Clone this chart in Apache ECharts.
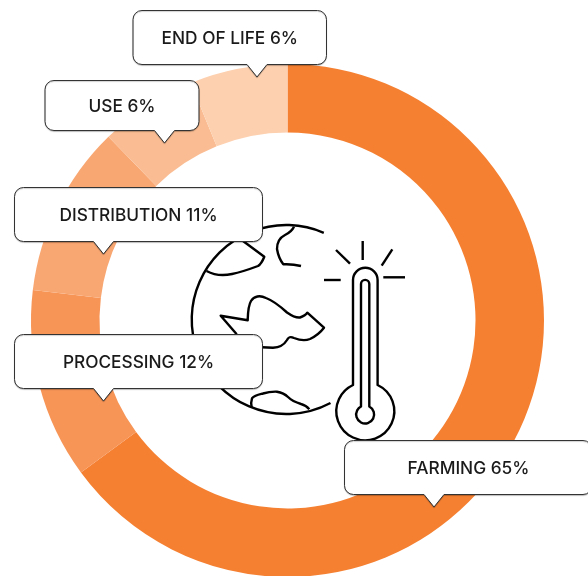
<!DOCTYPE html>
<html>
<head>
<meta charset="utf-8">
<style>
  html, body { margin: 0; padding: 0; background: #fff; }
  #chart { width: 588px; height: 576px; }
</style>
<script src="https://cdn.jsdelivr.net/npm/echarts@6/dist/echarts.min.js"></script>
</head>
<body>
<div id="chart"></div>
<script>
const categories = ['FARMING', 'PROCESSING', 'DISTRIBUTION', 'USE', 'END OF LIFE']
// printed percentages
const shares = [65, 12, 11, 6, 6]
// unrounded shares as measured off the ring
const sliceValues = [64.9, 12, 10.8, 6.15, 6.15]
const sliceColors = ['#f58032', '#f79557', '#f9a772', '#fabd93', '#fdd0af']

// [left, top, right, bottom, pointer x], same order as categories
const calloutBoxes = [
  [344.5, 440.5, 592, 494.5, 434],
  [14.5, 334.5, 262.5, 388.5, 103.5],
  [14.5, 187.5, 262.5, 241.5, 103.5],
  [45, 80.5, 199, 130.5, 164.5],
  [133, 10.5, 326.5, 64.5, 257],
]

const iconPaths = [
  // globe outline
  'M323.8 232.8 A94.5 94.5 0 1 0 330.5 403',
  // continents
  'M206.5 271 C214 275 223 276 232 274 C242 272 250 269 258 266 C261 264 263 260 264.3 256.7 L243 241',
  'M294 226.7 C292 231 289 233 285 235 C279 238 277 243 277 249 C278 255 280 260 283.3 264.3 C289 264 295 264.5 301 266',
  'M236.7 334.3 L220.7 315.7 L247.7 320.3 C248 312 248 306 251 301 C254 296 260 295 266 298 C274 301 281 307 287 312.5 C292 316 296 318 300 317.5 C303 316.5 306 315 307.3 312.7 L324 327.7 C320 333 316 336 310 339 C305 341 299 340 294 338 C290 336 288.5 337 287 340 C284 345 279 347.5 273 347.7 L262 347.3',
  'M251.7 407.7 C251 404 251 401 252 398.3 C255 395 259 394.5 263 393.5 C268 392 272 391.5 277 391.7 C282 392.5 285 394 288 397 C291 400 296 402.5 301 404 C305 405 307.5 407 309.3 409.3',
  // thermometer
  'M353 385 L353 280 A12.3 12.3 0 0 1 377.6 280 L377.6 385 A29 29 0 1 1 353 385 Z',
  'M361 406.5 L361 284 A4.15 4.15 0 0 1 369.3 284 L369.3 406.5 A9 9 0 1 1 361 406.5 Z',
  // rays
  'M362.7 241 L362.7 260',
  'M336 250 L350 263.7',
  'M392.3 249.3 L381.7 265.7',
  'M324 280 L340.7 280',
  'M383.3 277.3 L405 277.3',
]

const calloutPath = ([l, t, r, b, px]) => {
  const c = 9
  const hw = 10
  return `M${l + c} ${t} L${r - c} ${t} A${c} ${c} 0 0 1 ${r} ${t + c} L${r} ${b - c} A${c} ${c} 0 0 1 ${r - c} ${b}` +
    ` L${px + hw} ${b} L${px} ${b + 12.5} L${px - hw} ${b} L${l + c} ${b} A${c} ${c} 0 0 1 ${l} ${b - c} L${l} ${t + c} A${c} ${c} 0 0 1 ${l + c} ${t} Z`
}

const chart = echarts.init(document.getElementById('chart'))

chart.setOption({
  animation: false,
  backgroundColor: '#fff',
  series: [
    {
      type: 'pie',
      center: [287.5, 320.5],
      radius: [188, 256.5],
      startAngle: 90,
      silent: true,
      label: { show: false },
      labelLine: { show: false },
      data: categories.map((name, i) => ({
        name,
        value: sliceValues[i],
        itemStyle: { color: sliceColors[i] },
      })),
    },
    {
      type: 'custom',
      coordinateSystem: 'none',
      silent: true,
      clip: false,
      z: 3,
      data: [0],
      renderItem: () => ({
        type: 'group',
        children: iconPaths.map(pathData => ({
          type: 'path',
          shape: { pathData },
          style: { fill: 'none', stroke: '#000', lineWidth: 2.4, lineJoin: 'round' },
        })),
      }),
    },
    {
      type: 'custom',
      coordinateSystem: 'none',
      silent: true,
      clip: false,
      z: 4,
      data: categories.map((_, i) => i),
      renderItem: (params) => {
        const i = params.dataIndex
        const box = calloutBoxes[i]
        const textX = i === 0 ? 468.5 : (box[0] + box[2]) / 2
        return {
          type: 'group',
          children: [
            {
              type: 'path',
              shape: { pathData: calloutPath(box) },
              style: {
                fill: '#fff',
                stroke: '#333',
                lineWidth: 1,
                shadowColor: 'rgba(0,0,0,0.2)',
                shadowBlur: 1,
                shadowOffsetY: 1,
              },
            },
            {
              type: 'text',
              style: {
                text: `${categories[i]} ${shares[i]}%`,
                x: textX,
                y: (box[1] + box[3]) / 2 + 1,
                align: 'center',
                verticalAlign: 'middle',
                fill: '#1a1a1a',
                font: '500 17.3px Inter, "Noto Sans", sans-serif',
              },
            },
          ],
        }
      },
    },
  ],
})
</script>
</body>
</html>
